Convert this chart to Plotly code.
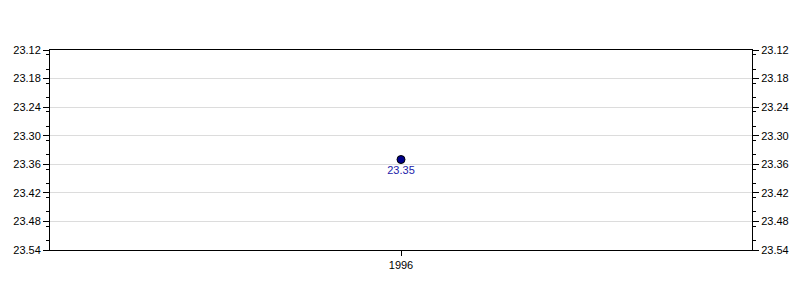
import plotly.graph_objects as go

years = [1996]
values = [23.35]
labels = ["23.35"]

FONT = "Liberation Sans, Arial"

fig = go.Figure()
fig.add_trace(go.Scatter(
    x=years, y=values, mode="markers+text", text=labels,
    textposition="bottom center",
    textfont=dict(color="#2222aa", size=11, family=FONT),
    marker=dict(color="#00008b", size=8, line=dict(color="black", width=1)),
    showlegend=False, cliponaxis=False,
))
fig.add_trace(go.Scatter(x=years, y=values, yaxis="y2", mode="markers",
                         marker=dict(opacity=0), showlegend=False, hoverinfo="skip"))

yax = dict(range=[23.54, 23.12], tick0=23.12, dtick=0.06, tickformat=".2f",
           ticks="outside", ticklen=6, tickcolor="black", showline=True,
           linecolor="black", linewidth=1, gridcolor="#dcdcdc", zeroline=False,
           minor=dict(ticks="outside", ticklen=3, dtick=0.03, tickcolor="black", showgrid=False),
           tickfont=dict(size=11, color="black", family=FONT))

fig.update_layout(
    width=800, height=300,
    margin=dict(l=50, r=48, t=50, b=50),
    plot_bgcolor="white", paper_bgcolor="white",
    xaxis=dict(range=[1995.5, 1996.5], tickvals=[1996], ticktext=["1996"],
               ticks="outside", ticklen=5, tickcolor="black", showline=True,
               linecolor="black", mirror=True, showgrid=False, zeroline=False,
               tickfont=dict(size=11, color="black", family=FONT)),
    yaxis=yax,
    yaxis2=dict(yax, overlaying="y", side="right", showgrid=False),
)
fig.write_html("out.html")
